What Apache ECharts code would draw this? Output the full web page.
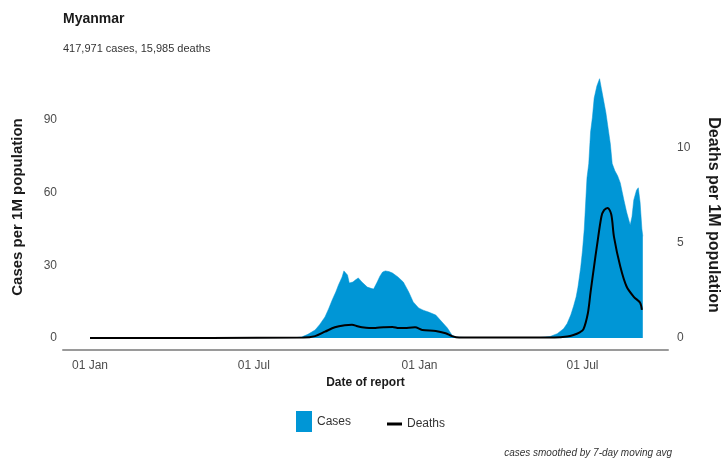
<!DOCTYPE html>
<html>
<head>
<meta charset="utf-8">
<script src="https://cdn.jsdelivr.net/npm/echarts@6/dist/echarts.min.js"></script>
<style>
html,body{margin:0;padding:0;background:#fff;}
#chart{width:723px;height:464px;}
</style>
</head>
<body>
<div id="chart"></div>
<script>
// ---- data ----
const titleText = "Myanmar";
const subtitleText = "417,971 cases, 15,985 deaths";
const captionText = "cases smoothed by 7-day moving avg";

const caseDates = [
  "2020-01-01","2020-03-20","2020-08-15","2020-08-23","2020-08-30","2020-09-07","2020-09-12","2020-09-18",
  "2020-09-22","2020-09-26","2020-09-30","2020-10-03","2020-10-07","2020-10-09","2020-10-11","2020-10-13",
  "2020-10-15","2020-10-17","2020-10-19","2020-10-22","2020-10-25","2020-10-29","2020-11-04","2020-11-08",
  "2020-11-11","2020-11-15","2020-11-18","2020-11-21","2020-11-24","2020-11-28","2020-12-02","2020-12-08",
  "2020-12-14","2020-12-20","2020-12-25","2020-12-31","2021-01-05","2021-01-11","2021-01-19","2021-01-26",
  "2021-02-01","2021-02-06","2021-02-10","2021-02-20","2021-04-15","2021-05-15","2021-05-26","2021-06-03",
  "2021-06-10","2021-06-14","2021-06-18","2021-06-21","2021-06-24","2021-06-26","2021-06-29","2021-07-01",
  "2021-07-03","2021-07-04","2021-07-06","2021-07-08","2021-07-10","2021-07-12","2021-07-14","2021-07-17",
  "2021-07-20","2021-07-22","2021-07-24","2021-07-27","2021-08-01","2021-08-03","2021-08-06","2021-08-09",
  "2021-08-12","2021-08-16","2021-08-19","2021-08-23","2021-08-25","2021-08-27","2021-08-30","2021-09-01",
  "2021-09-03","2021-09-05","2021-09-06"
];
const caseValues = [
  0,0,0.1,0.4,1.5,3.3,5.5,8.7,
  12,15.7,19,21.9,25.2,27.7,27,26,
  22.7,23.5,23.1,24,24.8,23.1,21,20.5,
  20.2,23.1,25.5,27.2,27.7,27.4,26.8,25.2,
  23.1,19,14.9,12.4,11.5,10.7,9.5,6.6,
  4.1,1.2,0.4,0.2,0.2,0.2,0.6,1.8,
  3.8,6,9.5,13,17,21,29,36,
  45,52,66,72,85,91,99,104,
  107,103,99,93,80,72,69,67,
  64,57,52,46.6,50,57,61,62,
  56,45,42
];

const deathDates = [
  "2020-01-01","2020-08-25","2020-09-07","2020-09-18","2020-09-29","2020-10-10","2020-10-18","2020-10-24",
  "2020-10-29","2020-11-06","2020-11-13","2020-11-22","2020-12-02","2020-12-09","2020-12-16","2020-12-27",
  "2021-01-04","2021-01-19","2021-01-30","2021-02-06","2021-02-14","2021-05-31","2021-06-14","2021-06-21",
  "2021-06-28","2021-07-02","2021-07-07","2021-07-10","2021-07-14","2021-07-17","2021-07-22","2021-07-25",
  "2021-07-29","2021-08-02","2021-08-05","2021-08-12","2021-08-19","2021-08-27","2021-09-03","2021-09-05"
];
const deathValues = [
  0,0.02,0.1,0.33,0.56,0.67,0.7,0.62,
  0.56,0.52,0.53,0.56,0.58,0.52,0.53,0.56,
  0.42,0.37,0.25,0.1,0.02,0.03,0.08,0.16,
  0.3,0.45,1.3,2.4,3.8,4.8,6.36,6.7,
  6.82,6.47,5.3,3.75,2.7,2.16,1.85,1.47
];

const xTickDates = ["2020-01-01","2020-07-01","2021-01-01","2021-07-01"];
const xTickLabels = ["01 Jan","01 Jul","01 Jan","01 Jul"];
const xMinDate = "2019-12-02";
const xMaxDate = "2021-10-04";
const leftTicks = [0,30,60,90];
const rightTicks = [0,5,10];

// ---- build ----
const ts = s => { const p = s.split("-").map(Number); return Date.UTC(p[0], p[1]-1, p[2]); };
const casesData = caseDates.map((d,i) => [ts(d), caseValues[i]]);
const deathsData = deathDates.map((d,i) => [ts(d), deathValues[i]]);
const tickTs = xTickDates.map(ts);

const FONT = "'Liberation Sans', Arial, sans-serif";
const BLUE = "#0096d6";

const chart = echarts.init(document.getElementById('chart'), null, {renderer: 'canvas'});
chart.setOption({
  animation: false,
  backgroundColor: '#ffffff',
  textStyle: {fontFamily: FONT},
  title: [
    {text: titleText, left: 58, top: 7, textStyle: {fontFamily: FONT, fontSize: 14, fontWeight: 'bold', color: '#1a1a1a'}},
    {text: subtitleText, left: 58, top: 38, textStyle: {fontFamily: FONT, fontSize: 11, fontWeight: 'normal', color: '#333'}},
    {text: captionText, right: 46, top: 443, textStyle: {fontFamily: FONT, fontSize: 10, fontStyle: 'italic', fontWeight: 'normal', color: '#333'}}
  ],
  legend: [
    {data: ['Cases'], left: 291, top: 406, icon: 'rect', itemWidth: 16, itemHeight: 21, itemGap: 10,
     textStyle: {fontFamily: FONT, fontSize: 12, color: '#333'}},
    {data: ['Deaths'], left: 382, top: 413, icon: 'rect', itemWidth: 15, itemHeight: 3, itemGap: 10,
     textStyle: {fontFamily: FONT, fontSize: 12, color: '#333'}}
  ],
  grid: {left: 63, right: 55, top: 70, bottom: 126, containLabel: false, outerBoundsMode: 'none'},
  xAxis: {
    type: 'value',
    min: ts(xMinDate), max: ts(xMaxDate),
    offset: 12,
    name: 'Date of report', nameLocation: 'middle', nameGap: 26,
    nameTextStyle: {fontFamily: FONT, fontSize: 12, fontWeight: 'bold', color: '#1a1a1a'},
    axisLine: {show: true, onZero: false, lineStyle: {color: '#9a9a9a', width: 2}},
    axisTick: {show: false},
    splitLine: {show: false},
    axisLabel: {
      customValues: tickTs,
      formatter: v => { const i = tickTs.indexOf(v); return i >= 0 ? xTickLabels[i] : ''; },
      fontFamily: FONT, fontSize: 12, color: '#4d4d4d', margin: 10, hideOverlap: false
    }
  },
  yAxis: [
    {
      type: 'value', min: 0, max: 110.6, interval: 30, position: 'left',
      name: 'Cases per 1M population', nameLocation: 'middle', nameGap: 38, nameRotate: 90,
      nameTextStyle: {fontFamily: FONT, fontSize: 15, fontWeight: 'bold', color: '#1a1a1a', padding: [0, 6, 0, 0]},
      axisLine: {show: false}, axisTick: {show: false}, splitLine: {show: false},
      axisLabel: {customValues: leftTicks, fontFamily: FONT, fontSize: 12, color: '#4d4d4d', margin: 6}
    },
    {
      type: 'value', min: 0, max: 14.05, interval: 5, position: 'right',
      name: 'Deaths per 1M population', nameLocation: 'middle', nameGap: 37, nameRotate: -90,
      nameTextStyle: {fontFamily: FONT, fontSize: 16, fontWeight: 'bold', color: '#1a1a1a', padding: [0, 0, 0, 22]},
      axisLine: {show: false}, axisTick: {show: false}, splitLine: {show: false},
      axisLabel: {customValues: rightTicks, fontFamily: FONT, fontSize: 12, color: '#4d4d4d', margin: 9}
    }
  ],
  series: [
    {
      name: 'Cases', type: 'line', yAxisIndex: 0, data: casesData,
      color: BLUE, showSymbol: false, symbol: 'none',
      lineStyle: {width: 0.5, color: BLUE},
      areaStyle: {color: BLUE, opacity: 1},
      z: 2
    },
    {
      name: 'Deaths', type: 'line', yAxisIndex: 1, data: deathsData,
      color: '#000', showSymbol: false, symbol: 'none', smooth: 0.3,
      lineStyle: {width: 2, color: '#000'},
      z: 3
    }
  ]
});
</script>
</body>
</html>
